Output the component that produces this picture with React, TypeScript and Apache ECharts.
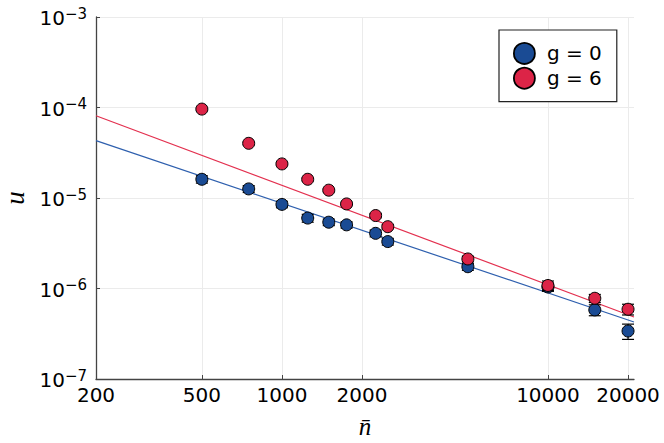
import React, { useEffect, useRef } from "react";
import * as echarts from "echarts";

const nValues = [500, 750, 1000, 1250, 1500, 1750, 2250, 2500, 5000, 10000, 15000, 20000];
const uG0 = [1.61e-5, 1.26e-5, 8.5e-6, 6.0e-6, 5.4e-6, 5.05e-6, 4.07e-6, 3.3e-6, 1.74e-6, 1.04e-6, 5.8e-7, 3.39e-7];
const errG0 = [1.5e-6, 1.1e-6, 7e-7, 6e-7, 4.5e-7, 4e-7, 3.5e-7, 2.8e-7, 1.5e-7, 1.1e-7, 8e-8, 6.5e-8];
const uG6 = [9.6e-5, 4.02e-5, 2.38e-5, 1.61e-5, 1.22e-5, 8.6e-6, 6.4e-6, 4.82e-6, 2.12e-6, 1.08e-6, 7.8e-7, 5.9e-7];
const errG6 = [3e-6, 1.4e-6, 8e-7, 6e-7, 4.5e-7, 3.5e-7, 3.5e-7, 2.5e-7, 1.5e-7, 1.3e-7, 8e-8, 8e-8];
const fitX = [200, 21060];
const fitG0 = [4.3e-5, 4.27e-7];
const fitG6 = [8.1e-5, 4.84e-7];
const xTicks = [200, 500, 1000, 2000, 10000, 20000];
const seriesNames = ["g = 0", "g = 6"];

const BLUE = "#1a4b94";
const RED = "#dc2447";
const BLUE_LINE = "#2e5fae";
const RED_LINE = "#e3304f";

function errRender(params: any, api: any) {
  const x = api.value(0);
  const y = api.value(1);
  const e = api.value(2);
  const top = api.coord([x, y + e]);
  const bot = api.coord([x, y - e]);
  const cap = 6;
  const style = { stroke: "#000", lineWidth: 1.2 };
  return {
    type: "group",
    children: [
      { type: "line", shape: { x1: top[0], y1: top[1], x2: bot[0], y2: bot[1] }, style },
      { type: "line", shape: { x1: top[0] - cap, y1: top[1], x2: top[0] + cap, y2: top[1] }, style },
      { type: "line", shape: { x1: bot[0] - cap, y1: bot[1], x2: bot[0] + cap, y2: bot[1] }, style },
    ],
  };
}

export default function App() {
  const ref = useRef<HTMLDivElement>(null);
  useEffect(() => {
    if (!ref.current) return;
    const chart = echarts.init(ref.current, null, { renderer: "svg" });
    const pts = (ys: number[]) => nValues.map((n, i) => [n, ys[i]]);
    const errPts = (ys: number[], es: number[]) => nValues.map((n, i) => [n, ys[i], es[i]]);
    const fit = (ys: number[]) => fitX.map((x, i) => [x, ys[i]]);
    chart.setOption({
      animation: false,
      backgroundColor: "#fff",
      grid: { left: 96, top: 17, right: 30, bottom: 64, containLabel: false, outerBoundsMode: "none" },
      legend: {
        data: seriesNames,
        left: 499,
        top: 30,
        orient: "vertical",
        padding: [12, 15, 12, 14],
        itemWidth: 21,
        itemHeight: 21,
        itemGap: 2,
        borderColor: "#222",
        borderWidth: 1.2,
        backgroundColor: "#fff",
        icon: "circle",
        itemStyle: { borderColor: "#000", borderWidth: 1.8 },
        textStyle: { fontFamily: "DejaVu Sans", fontSize: 20, color: "#000", padding: [0, 0, 0, 7] },
      },
      xAxis: {
        type: "log",
        logBase: 10,
        min: 200,
        max: 21060,
        name: "n\u0304",
        nameLocation: "middle",
        nameGap: 36,
        nameTextStyle: { fontFamily: "Liberation Serif", fontStyle: "italic", fontSize: 25, lineHeight: 22, color: "#000" },
        axisLine: { show: true, onZero: false, lineStyle: { color: "#444", width: 1.3 } },
        axisTick: { show: true, inside: true, length: 4, customValues: xTicks, lineStyle: { color: "#444" } },
        axisLabel: {
          customValues: xTicks,
          margin: 6,
          fontFamily: "DejaVu Sans",
          fontSize: 20,
          color: "#000",
          formatter: (v: number) => String(Math.round(v)),
        },
        splitLine: { show: true, lineStyle: { color: "#ebebeb", width: 1 } },
        minorTick: { show: false },
        minorSplitLine: { show: false },
      },
      yAxis: {
        type: "log",
        logBase: 10,
        min: 1e-7,
        max: 1e-3,
        name: "u",
        nameLocation: "middle",
        nameGap: 63,
        nameRotate: 90,
        nameTextStyle: { fontFamily: "Liberation Serif", fontStyle: "italic", fontSize: 27, color: "#000" },
        axisLine: { show: true, onZero: false, lineStyle: { color: "#444", width: 1.3 } },
        axisTick: { show: true, inside: true, length: 4, lineStyle: { color: "#444" } },
        axisLabel: {
          margin: 9,
          formatter: (v: number) => {
            const e = Math.round(Math.log10(v));
            return "{b|10}{s|\u2212" + Math.abs(e) + "}";
          },
          rich: {
            b: { fontFamily: "DejaVu Sans", fontSize: 20, color: "#000", lineHeight: 22, verticalAlign: "bottom" },
            s: { fontFamily: "DejaVu Sans", fontSize: 15, color: "#000", lineHeight: 17, verticalAlign: "top" },
          },
        },
        splitLine: { show: true, lineStyle: { color: "#ebebeb", width: 1 } },
        minorTick: { show: false },
      },
      series: [
        {
          name: "fit g = 0",
          type: "line",
          data: fit(fitG0),
          symbol: "none",
          lineStyle: { color: BLUE_LINE, width: 1.2 },
          z: 1,
        },
        {
          name: "fit g = 6",
          type: "line",
          data: fit(fitG6),
          symbol: "none",
          lineStyle: { color: RED_LINE, width: 1.2 },
          z: 1,
        },
        {
          name: "err g = 0",
          type: "custom",
          renderItem: errRender,
          data: errPts(uG0, errG0),
          encode: { x: 0, y: 1 },
          z: 2,
        },
        {
          name: seriesNames[0],
          type: "scatter",
          data: pts(uG0),
          symbol: "circle",
          symbolSize: 12,
          itemStyle: { color: BLUE, borderColor: "#000", borderWidth: 1, opacity: 1 },
          z: 3,
        },
        {
          name: "err g = 6",
          type: "custom",
          renderItem: errRender,
          data: errPts(uG6, errG6),
          encode: { x: 0, y: 1 },
          z: 4,
        },
        {
          name: seriesNames[1],
          type: "scatter",
          data: pts(uG6),
          symbol: "circle",
          symbolSize: 12,
          itemStyle: { color: RED, borderColor: "#000", borderWidth: 1, opacity: 1 },
          z: 5,
        },
      ],
    });
    return () => chart.dispose();
  }, []);
  return <div ref={ref} style={{ position: "fixed", left: 0, top: 0, width: 664, height: 443 }} />;
}
